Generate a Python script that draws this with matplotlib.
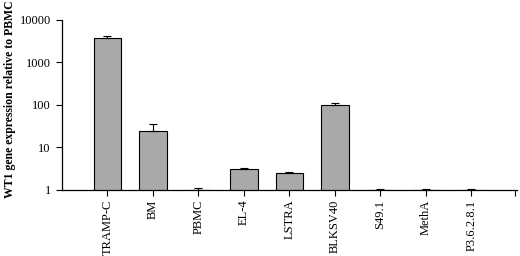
import matplotlib.pyplot as plt
import numpy as np

cells = ['TRAMP-C', 'BM', 'PBMC', 'EL-4', 'LSTRA', 'BLKSV40', 'S49.1', 'MethA', 'P3.6.2.8.1']
expr = [3800, 25, 1.0, 3.05, 2.5, 102, 1.0, 1.0, 1.0]
err_up = [400, 10, 0.12, 0.2, 0.2, 10, 0.05, 0.05, 0.05]

plt.rcParams['font.family'] = ['Liberation Serif', 'DejaVu Serif']

fig = plt.figure(figsize=(5.2, 2.56), dpi=100)
ax = fig.add_axes([0.119, 0.258, 0.875, 0.664])

x = np.arange(len(cells))
ax.bar(x, expr, width=0.6, bottom=0, color='#a9a9a9', edgecolor='black', linewidth=0.8, zorder=2)
ax.errorbar(x, expr, yerr=[np.zeros(len(cells)), err_up], fmt='none', ecolor='black',
            elinewidth=0.8, capsize=3, capthick=0.8, zorder=3)

ax.set_yscale('log')
ax.set_ylim(1, 10000)
ax.set_xlim(-1, len(cells))
ax.set_yticks([1, 10, 100, 1000, 10000])
ax.set_yticklabels(['1', '10', '100', '1000', '10000'])
ax.minorticks_off()
ax.set_xticks(x)
ax.set_xticks([len(cells) - 0.05], minor=True)
ax.set_xticklabels(cells, rotation=90)
ax.tick_params(axis='both', which='both', labelsize=9, length=4, width=0.8, color='black')
ax.tick_params(axis='x', pad=3)
ax.tick_params(axis='y', pad=4)

for s in ['top', 'right']:
    ax.spines[s].set_visible(False)
for s in ['left', 'bottom']:
    ax.spines[s].set_linewidth(0.9)

fig.text(0.008, 1.0, 'WT1 gene expression relative to PBMC', rotation=90, ha='left', va='top',
         fontsize=8.5, fontweight='bold')

fig.savefig('out.png', dpi=100)
